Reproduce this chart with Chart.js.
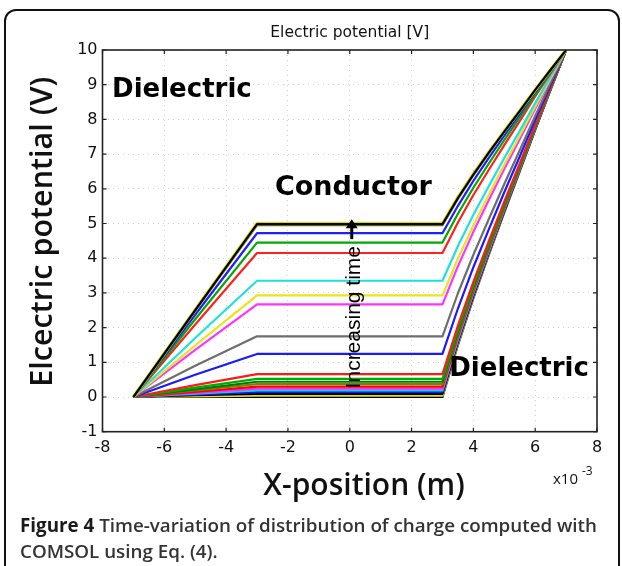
<!DOCTYPE html>
<html><head><meta charset="utf-8">
<script src="https://cdn.jsdelivr.net/npm/chart.js@4.4.1/dist/chart.umd.min.js"></script>
<style>
html,body{margin:0;padding:0;background:#fff;}
#wrap{position:relative;width:622px;height:566px;overflow:hidden;background:#fff;}
#frame{position:absolute;left:4px;top:9px;width:612px;height:600px;border:2px solid #111;border-radius:12px;}
canvas{position:absolute;left:0;top:0;}
#cap{position:absolute;left:20px;top:512px;font-family:"Open Sans",sans-serif;font-size:18.8px;line-height:26px;font-weight:600;color:#333;white-space:nowrap;}
#cap b{font-weight:700;color:#1a1a1a;}
</style></head>
<body>
<div id="wrap">
<div id="frame"></div>
<canvas id="c" width="622" height="566"></canvas>
<div id="cap"><b>Figure 4</b> Time-variation of distribution of charge computed with<br>COMSOL using Eq. (4).</div>
</div>
<script>
// x positions (×10^-3 m)
const xPositions = [-7, -5, -3, 3, 3.5, 4, 4.5, 5, 5.5, 6, 6.5, 7];
const xTicks = [-8, -6, -4, -2, 0, 2, 4, 6, 8];
const yTicks = [-1, 0, 1, 2, 3, 4, 5, 6, 7, 8, 9, 10];

// potential curves (V), from earliest (bottom) to latest (top)
const c01 = [0, 0.00, 0.00, 0.00, 1.50, 2.85, 4.10, 5.32, 6.50, 7.70, 8.86, 10];
const c02 = [0, 0.02, 0.04, 0.04, 1.53, 2.88, 4.12, 5.34, 6.51, 7.71, 8.86, 10];
const c03 = [0, 0.05, 0.09, 0.09, 1.58, 2.91, 4.15, 5.36, 6.53, 7.72, 8.87, 10];
const c04 = [0, 0.07, 0.14, 0.14, 1.62, 2.95, 4.18, 5.39, 6.55, 7.73, 8.88, 10];
const c05 = [0, 0.10, 0.19, 0.19, 1.66, 2.99, 4.21, 5.41, 6.57, 7.74, 8.88, 10];
const c06 = [0, 0.12, 0.24, 0.24, 1.70, 3.02, 4.24, 5.43, 6.58, 7.76, 8.89, 10];
const c07 = [0, 0.15, 0.30, 0.30, 1.76, 3.06, 4.28, 5.46, 6.61, 7.77, 8.89, 10];
const c08 = [0, 0.19, 0.37, 0.37, 1.81, 3.11, 4.32, 5.49, 6.63, 7.79, 8.90, 10];
const c09 = [0, 0.22, 0.44, 0.44, 1.87, 3.16, 4.36, 5.53, 6.65, 7.80, 8.91, 10];
const c10 = [0, 0.27, 0.52, 0.52, 1.94, 3.22, 4.41, 5.56, 6.68, 7.82, 8.92, 10];
const c11 = [0, 0.34, 0.66, 0.66, 2.06, 3.32, 4.49, 5.63, 6.73, 7.85, 8.94, 10];
const c12 = [0, 0.64, 1.24, 1.24, 2.55, 3.74, 4.83, 5.90, 6.93, 7.99, 9.00, 10];
const c13 = [0, 0.90, 1.75, 1.75, 2.99, 4.10, 5.13, 6.14, 7.11, 8.10, 9.06, 10];
const c14 = [0, 1.36, 2.67, 2.67, 3.77, 4.76, 5.68, 6.57, 7.43, 8.31, 9.16, 10];
const c15 = [0, 1.49, 2.93, 2.93, 3.99, 4.95, 5.83, 6.69, 7.53, 8.37, 9.19, 10];
const c16 = [0, 1.70, 3.35, 3.35, 4.35, 5.25, 6.08, 6.89, 7.67, 8.47, 9.24, 10];
const c17 = [0, 2.09, 4.15, 4.15, 5.03, 5.82, 6.55, 7.26, 7.95, 8.66, 9.33, 10];
const c18 = [0, 2.24, 4.45, 4.45, 5.28, 6.03, 6.73, 7.40, 8.06, 8.72, 9.37, 10];
const c19 = [0, 2.37, 4.72, 4.72, 5.51, 6.23, 6.89, 7.53, 8.15, 8.79, 9.40, 10];
const c20 = [0, 2.49, 4.95, 4.95, 5.71, 6.39, 7.02, 7.64, 8.23, 8.84, 9.42, 10];
const c21 = [0, 2.51, 5.00, 5.00, 5.75, 6.43, 7.05, 7.66, 8.25, 8.85, 9.43, 10];
const c22 = [0, 2.50, 4.98, 4.98, 5.73, 6.41, 7.04, 7.65, 8.24, 8.85, 9.43, 10];

const curves = [c01,c02,c03,c04,c05,c06,c07,c08,c09,c10,c11,c12,c13,c14,c15,c16,c17,c18,c19,c20,c21,c22];
const curveColors = ['#000000','#e3e300','#000000','#1414ff','#00dede','#ff2bff','#ff0000','#808000','#007a00','#00aa00','#ff1a1a','#1a1aff','#6e6e6e','#ff33ff','#e6e61a','#1ee0e0','#ff2020','#00a800','#2020ff','#6b6b00','#d9d900','#000000'];

// annotation texts, anchored in data coordinates
const labelDielectricTop = {text:'Dielectric', x:-7.69, y:8.64};
const labelConductor = {text:'Conductor', x:-2.42, y:5.82};
const labelDielectricRight = {text:'Dielectric', x:3.22, y:0.6};
const labelTime = {text:'Increasing time', x:0.13, y:2.3};
const arrowTime = {x:0.0, y0:4.55, y1:5.12};

const datasets = curves.map((c,i)=>({
  label: 't' + (i+1),
  data: xPositions.map((xv,j)=>({x:xv, y:c[j]})),
  borderColor: curveColors[i],
  borderWidth: (i===20) ? 3.4 : 2.2,
  pointRadius: 0,
  tension: 0,
  borderJoinStyle: 'round',
  fill: false,
  order: curves.length - i
}));

const deco = {
  id:'deco',
  afterDatasetsDraw(chart){
    const {ctx, chartArea:a, scales:{x,y}} = chart;
    ctx.save();
    // inner ticks
    ctx.strokeStyle = '#222'; ctx.lineWidth = 1.2;
    xTicks.forEach(v=>{
      const px = x.getPixelForValue(v);
      ctx.beginPath(); ctx.moveTo(px,a.bottom); ctx.lineTo(px,a.bottom-4);
      ctx.moveTo(px,a.top); ctx.lineTo(px,a.top+4); ctx.stroke();
    });
    yTicks.forEach(v=>{
      const py = y.getPixelForValue(v);
      ctx.beginPath(); ctx.moveTo(a.left,py); ctx.lineTo(a.left+4,py);
      ctx.moveTo(a.right,py); ctx.lineTo(a.right-4,py); ctx.stroke();
    });
    // box
    ctx.lineWidth = 1.6; ctx.strokeStyle = '#222';
    ctx.strokeRect(a.left, a.top, a.right-a.left, a.bottom-a.top);

    ctx.fillStyle = '#000';
    ctx.textBaseline = 'alphabetic'; ctx.textAlign = 'left';
    ctx.font = 'bold 26px "DejaVu Sans"';
    [labelDielectricTop, labelDielectricRight].forEach(l=>{
      ctx.fillText(l.text, x.getPixelForValue(l.x), y.getPixelForValue(l.y));
    });
    ctx.font = 'bold 27px "DejaVu Sans"';
    ctx.fillText(labelConductor.text, x.getPixelForValue(labelConductor.x), y.getPixelForValue(labelConductor.y));
    // rotated label
    ctx.save();
    ctx.translate(x.getPixelForValue(labelTime.x), y.getPixelForValue(labelTime.y));
    ctx.rotate(-Math.PI/2);
    ctx.textAlign = 'center'; ctx.textBaseline = 'middle';
    ctx.font = '21px "Liberation Sans"';
    ctx.fillText(labelTime.text, 0, 0);
    ctx.restore();
    // arrow
    const ax = x.getPixelForValue(arrowTime.x) + 2;
    const ay0 = y.getPixelForValue(arrowTime.y0), ay1 = y.getPixelForValue(arrowTime.y1);
    ctx.lineWidth = 3; ctx.strokeStyle = '#000';
    ctx.beginPath(); ctx.moveTo(ax, ay0); ctx.lineTo(ax, ay1+8); ctx.stroke();
    ctx.beginPath(); ctx.moveTo(ax, ay1); ctx.lineTo(ax-6, ay1+9); ctx.lineTo(ax+6, ay1+9); ctx.closePath(); ctx.fill();

    // chart title
    ctx.textAlign = 'center'; ctx.textBaseline = 'middle';
    ctx.font = '15.5px "DejaVu Sans"'; ctx.fillStyle = '#111';
    ctx.fillText('Electric potential [V]', (a.left+a.right)/2, a.top - 17);
    // axis titles
    ctx.font = '600 30px "Open Sans"'; ctx.fillStyle = '#111';
    ctx.fillText('X-position (m)', 364, 486);
    ctx.save();
    ctx.translate(43, (a.top+a.bottom)/2 - 9);
    ctx.rotate(-Math.PI/2);
    ctx.font = '600 30.5px "Open Sans"';
    ctx.fillText('Elcectric potential (V)', 0, 0);
    ctx.restore();
    // exponent
    ctx.textAlign = 'left'; ctx.textBaseline = 'alphabetic';
    ctx.font = '15px "Open Sans"';
    ctx.fillText('x10', 553, 484);
    ctx.font = '12px "Open Sans"';
    ctx.fillText('-3', 582, 475);
    ctx.restore();
  }
};

new Chart(document.getElementById('c'), {
  type:'line',
  data:{datasets},
  options:{
    responsive:false,
    animation:false,
    events:[],
    layout:{padding:{left:0, right:25, top:50, bottom:0}},
    plugins:{legend:{display:false}, tooltip:{enabled:false}, title:{display:false}},
    scales:{
      x:{
        type:'linear', min:-8, max:8,
        afterFit(s){ s.height = 134.3; },
        afterBuildTicks(s){ s.ticks = xTicks.map(v=>({value:v})); },
        grid:{color:'#cfcfcf', lineWidth:1, drawTicks:false},
        border:{display:false, dash:[1,4]},
        ticks:{padding:7, color:'#111', font:{family:'DejaVu Sans', size:16}, maxRotation:0, autoSkip:false}
      },
      y:{
        type:'linear', min:-1, max:10,
        afterFit(s){ s.width = 102.5; },
        afterBuildTicks(s){ s.ticks = yTicks.map(v=>({value:v})); },
        grid:{color:'#cfcfcf', lineWidth:1, drawTicks:false},
        border:{display:false, dash:[1,4]},
        ticks:{padding:5, color:'#111', font:{family:'DejaVu Sans', size:16}, autoSkip:false}
      }
    }
  },
  plugins:[deco]
});
</script>
</body></html>
